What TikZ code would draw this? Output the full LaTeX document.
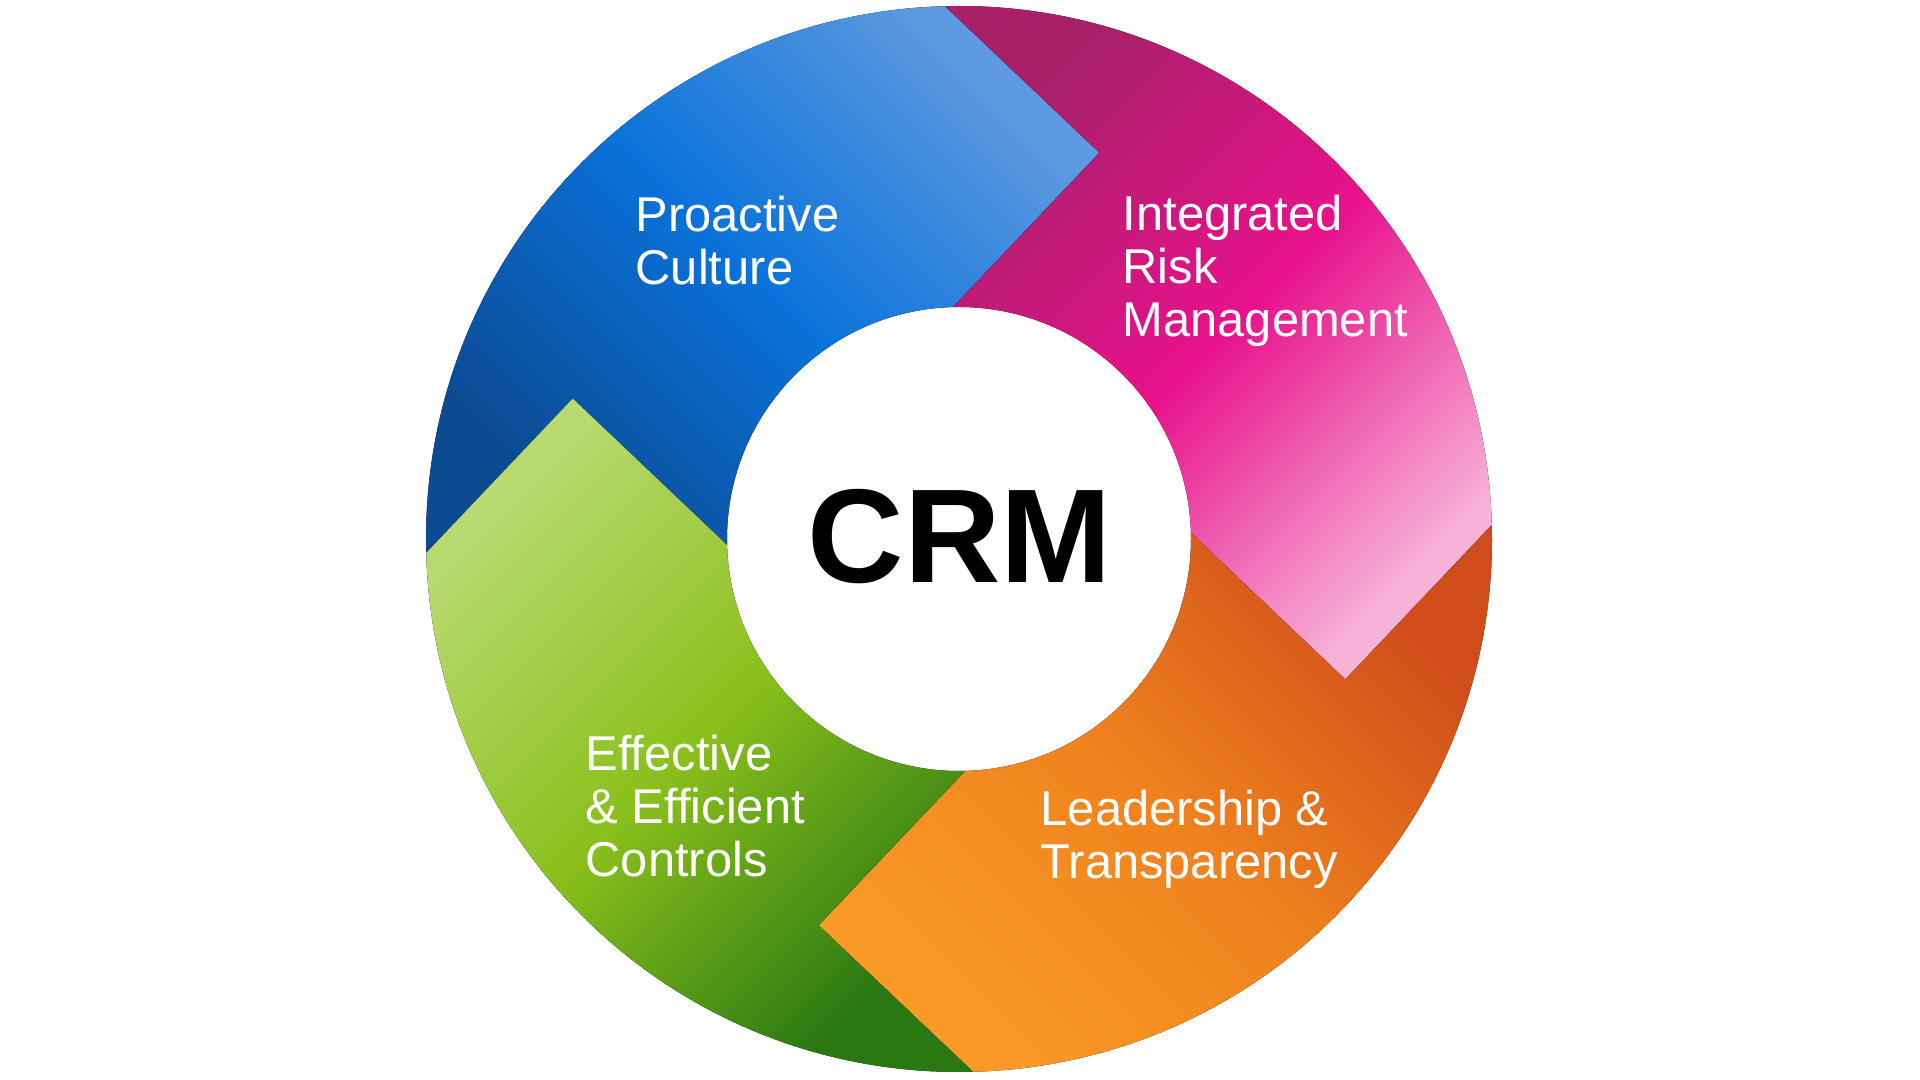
\documentclass[tikz,border=0pt]{standalone}
\usepackage{fontspec}
\setmainfont{Liberation Sans}
\usetikzlibrary{positioning}

\definecolor{blueDark}{HTML}{0C4A92}
\definecolor{blueMid}{HTML}{0A72DA}
\definecolor{blueLight}{HTML}{5E9ADF}
\definecolor{pinkDark}{HTML}{A8206A}
\definecolor{pinkMid}{HTML}{E8128C}
\definecolor{pinkLight}{HTML}{F7B2D8}
\definecolor{orangeDark}{HTML}{D04C1A}
\definecolor{orangeMid}{HTML}{EF821E}
\definecolor{orangeLight}{HTML}{FA9A26}
\definecolor{greenDark}{HTML}{2A7812}
\definecolor{greenMid}{HTML}{8AC01C}
\definecolor{greenLight}{HTML}{B8DA70}

\begin{document}
\begin{tikzpicture}[
  lbl/.style={white, anchor=base west, align=left, inner sep=0pt,
    font=\fontsize{13.9}{15.1}\selectfont}]
\useasboundingbox (0,0) rectangle (19.2,10.8);
\begin{scope}[shift={(9.59,5.41)}, rotate=1.5]
% four arrow segments, each running clockwise
\fill [top color=blueLight, bottom color=blueDark, middle color=blueMid, shading angle=-45]
  (180:5.33) arc [start angle=180, end angle=90, radius=5.33] -- (1.505,3.825)
  -- (90:2.32) arc [start angle=90, end angle=180, radius=2.32] -- (-3.825,1.505) -- cycle;
\fill [top color=pinkLight, bottom color=pinkDark, middle color=pinkMid, shading angle=-135]
  (90:5.33) arc [start angle=90, end angle=0, radius=5.33] -- (3.825,-1.505)
  -- (0:2.32) arc [start angle=0, end angle=90, radius=2.32] -- (1.505,3.825) -- cycle;
\fill [top color=orangeLight, bottom color=orangeDark, middle color=orangeMid, shading angle=135]
  (0:5.33) arc [start angle=0, end angle=-90, radius=5.33] -- (-1.505,-3.825)
  -- (-90:2.32) arc [start angle=-90, end angle=0, radius=2.32] -- (3.825,-1.505) -- cycle;
\fill [top color=greenLight, bottom color=greenDark, middle color=greenMid, shading angle=45]
  (-90:5.33) arc [start angle=-90, end angle=-180, radius=5.33] -- (-3.825,1.505)
  -- (-180:2.32) arc [start angle=-180, end angle=-90, radius=2.32] -- (-1.505,-3.825) -- cycle;
\end{scope}

% labels, placed by the baseline of their last line
\node [lbl] (proactive) at (6.35,7.95) {Proactive\\Culture};
\node [lbl] (integrated) at (11.22,7.43) {Integrated\\Risk\\Management};
\node [lbl] (effective) at (5.85,2.03) {Effective\\\& Efficient\\Controls};
\node [lbl] (leadership) at (10.40,2.01) {Leadership \&\\Transparency};
\node [anchor=base, inner sep=0pt, font=\fontsize{38}{40}\bfseries\selectfont] (crm) at (9.60,4.97) {CRM};
\end{tikzpicture}
\end{document}
